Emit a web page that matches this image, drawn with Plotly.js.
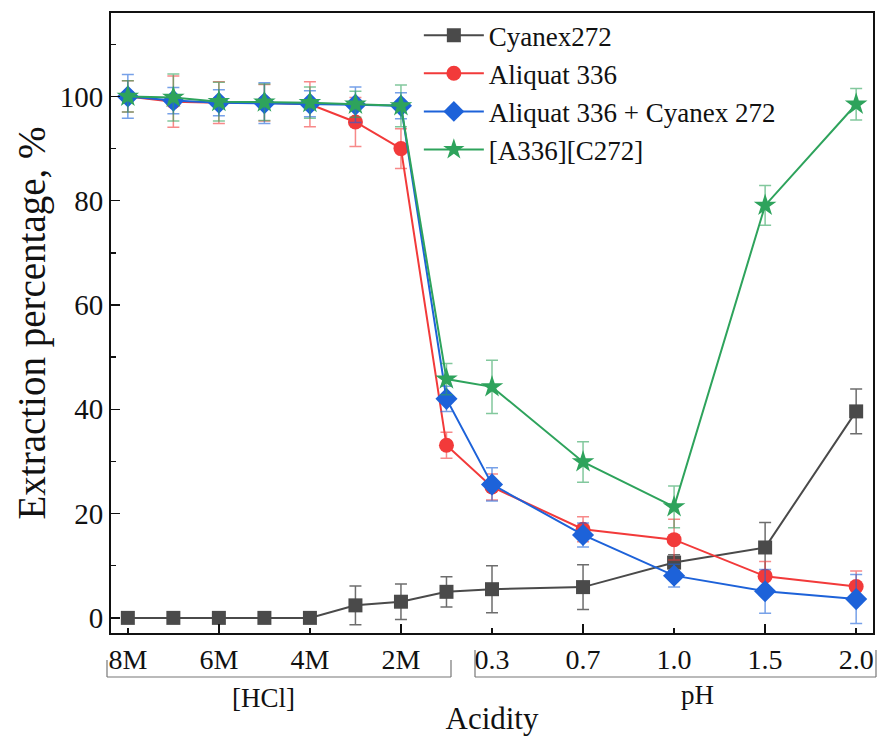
<!DOCTYPE html>
<html>
<head>
<meta charset="utf-8">
<script src="https://cdn.plot.ly/plotly-3.0.1.min.js"></script>
<style>html,body{margin:0;padding:0;background:#fff;}#chart{width:883px;height:736px;}</style>
</head>
<body>
<div id="chart"></div>
<script>
// Category positions (index along acidity axis) and tick labels
const xIdx = [0, 1, 2, 3, 4, 5, 6, 7, 8, 10, 12, 14, 16];
const tickIdx = [0, 2, 4, 6, 8, 10, 12, 14, 16];
const tickText = ['8M', '6M', '4M', '2M', '0.3', '0.7', '1.0', '1.5', '2.0'];
const majorTickIdx = [2, 6, 10, 14];

// Series values (%) and error bars
const cyanex = [0, 0, 0, 0, 0, 2.4, 3.1, 5.0, 5.5, 5.9, 10.6, 13.5, 39.6];
const cyanexErr = [0, 0, 0, 0, 0, 3.7, 3.4, 2.9, 4.5, 4.3, 1.5, 4.8, 4.3];
const aliquat = [100, 99, 98.8, 98.8, 98.5, 95.1, 90.0, 33.1, 25.1, 17.0, 15.0, 8.0, 6.0];
const aliquatErr = [3, 4.9, 4, 3.5, 4.3, 4.7, 3.8, 2.5, 2.5, 2.4, 3.9, 2.8, 3.0];
const mix = [100, 99.2, 98.8, 98.7, 98.6, 98.4, 98.2, 42.0, 25.6, 15.9, 8.1, 5.1, 3.6];
const mixErr = [4.2, 2.5, 2.5, 3.9, 2.5, 3.4, 2.5, 2.4, 3.2, 2.3, 2.2, 4.2, 4.7];
const ionic = [100, 99.8, 99.0, 98.9, 98.8, 98.5, 98.2, 45.8, 44.3, 29.9, 21.3, 79.1, 98.5];
const ionicErr = [3, 4.5, 3.7, 3.5, 3, 2.5, 4, 3, 5.1, 3.9, 4, 3.8, 3];

const names = ['Cyanex272', 'Aliquat 336', 'Aliquat 336 + Cyanex 272', '[A336][C272]'];

const FONT = 'Liberation Serif, Times New Roman, serif';

function mk(name, y, err, color, errColor, symbol, size) {
  return {
    type: 'scatter', mode: 'lines+markers', name: name,
    x: xIdx, y: y,
    line: {color: color, width: 2},
    marker: {color: color, symbol: symbol, size: size, line: {width: 0}},
    error_y: {type: 'data', array: err, visible: true, color: errColor, thickness: 1.5, width: 6}
  };
}

const traces = [
  mk(names[0], cyanex, cyanexErr, '#4a4a4a', 'rgba(60,60,60,0.75)', 'square', 14),
  mk(names[1], aliquat, aliquatErr, '#f23a3a', 'rgba(242,58,58,0.6)', 'circle', 15),
  mk(names[2], mix, mixErr, '#1d62d9', 'rgba(29,98,217,0.6)', 'diamond', 17),
  mk(names[3], ionic, ionicErr, '#2ea35c', 'rgba(46,163,92,0.6)', 'star', 17)
];

const xr = [-0.37, 16.37];
const layout = {
  width: 883, height: 736,
  margin: {l: 111, r: 10, t: 13, b: 103},
  paper_bgcolor: '#ffffff', plot_bgcolor: '#ffffff',
  font: {family: FONT, size: 27, color: '#111'},
  showlegend: true,
  legend: {
    x: 0.404, y: 1.003, xanchor: 'left', yanchor: 'top',
    bgcolor: 'rgba(0,0,0,0)', borderwidth: 0,
    font: {family: FONT, size: 27, color: '#111'},
    itemwidth: 60, tracegroupgap: 0
  },
  xaxis: {
    range: xr, showgrid: false, zeroline: false,
    tickmode: 'array', tickvals: tickIdx, ticktext: tickText,
    ticks: 'inside', ticklen: 5, tickwidth: 1.5, tickcolor: '#111',
    showline: true, linecolor: '#111', linewidth: 2, mirror: true,
    tickfont: {family: FONT, size: 28, color: '#111'},
    title: {text: 'Acidity', font: {family: FONT, size: 31, color: '#111'}, standoff: 50}
  },
  xaxis2: {
    range: xr, overlaying: 'x', anchor: 'y', side: 'bottom',
    showgrid: false, zeroline: false, showticklabels: false,
    tickmode: 'array', tickvals: majorTickIdx,
    ticks: 'inside', ticklen: 9, tickwidth: 1.5, tickcolor: '#111', showline: false
  },
  yaxis: {
    range: [-2.9, 116], showgrid: false, zeroline: false,
    tickmode: 'linear', tick0: 0, dtick: 20,
    ticks: 'inside', ticklen: 9, tickwidth: 1.5, tickcolor: '#111',
    minor: {dtick: 10, tick0: 0, ticks: 'inside', ticklen: 5, tickwidth: 1.5, tickcolor: '#111'},
    showline: true, linecolor: '#111', linewidth: 2, mirror: true,
    tickfont: {family: FONT, size: 29, color: '#111'},
    title: {text: 'Extraction percentage, %', font: {family: FONT, size: 39, color: '#111'}, standoff: 2}
  },
  annotations: [
    {text: '[HCl]', xref: 'paper', yref: 'paper', x: (263 - 111) / 762, y: -(698 - 633) / 620, xanchor: 'center', yanchor: 'middle', showarrow: false, font: {family: FONT, size: 27, color: '#111'}},
    {text: 'pH', xref: 'paper', yref: 'paper', x: (697 - 111) / 762, y: -(695 - 633) / 620, xanchor: 'center', yanchor: 'middle', showarrow: false, font: {family: FONT, size: 27, color: '#111'}}
  ]
};

// bracket outlines below the axis (layout decoration, paper coordinates)
function px(x) { return (x - 111) / 762; }
function py(y) { return (633 - y) / 620; }
const bracketColor = '#777';
layout.shapes = [
  {type: 'line', xref: 'paper', yref: 'paper', x0: px(107), x1: px(107), y0: py(660), y1: py(677), line: {color: bracketColor, width: 1.2}},
  {type: 'line', xref: 'paper', yref: 'paper', x0: px(107), x1: px(451), y0: py(677), y1: py(677), line: {color: bracketColor, width: 1.2}},
  {type: 'line', xref: 'paper', yref: 'paper', x0: px(451), x1: px(451), y0: py(660), y1: py(677), line: {color: bracketColor, width: 1.2}},
  {type: 'line', xref: 'paper', yref: 'paper', x0: px(475), x1: px(475), y0: py(650), y1: py(677), line: {color: bracketColor, width: 1.2}},
  {type: 'line', xref: 'paper', yref: 'paper', x0: px(475), x1: px(876), y0: py(677), y1: py(677), line: {color: bracketColor, width: 1.2}},
  {type: 'line', xref: 'paper', yref: 'paper', x0: px(876), x1: px(876), y0: py(650), y1: py(677), line: {color: bracketColor, width: 1.2}}
];

// invisible helper trace so xaxis2 is rendered
traces.push({type: 'scatter', x: xr, y: [null, null], xaxis: 'x2', yaxis: 'y', showlegend: false, hoverinfo: 'skip', mode: 'markers', marker: {opacity: 0}});

Plotly.newPlot('chart', traces, layout, {displayModeBar: false, staticPlot: true});
</script>
</body>
</html>
